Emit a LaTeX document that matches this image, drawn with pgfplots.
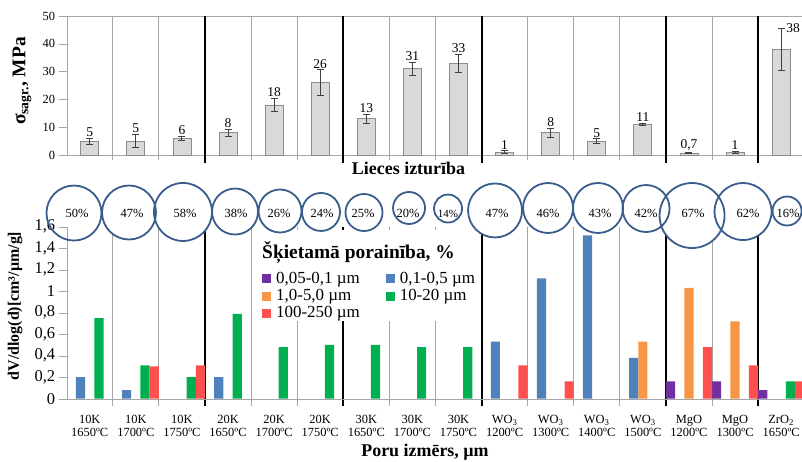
\documentclass[border=0pt]{standalone}
\usepackage{fontspec}
\setmainfont{Liberation Serif}
\usepackage{pgfplots}
\usepackage{pgfplotstable}
\pgfplotsset{compat=1.18}

\definecolor{cP}{HTML}{7030A0}
\definecolor{cB}{HTML}{4F81BD}
\definecolor{cO}{HTML}{F79646}
\definecolor{cG}{HTML}{00B050}
\definecolor{cR}{HTML}{FF5050}
\definecolor{barfill}{HTML}{D9D9D9}
\definecolor{bardraw}{HTML}{8C8C8C}
\definecolor{errc}{HTML}{404040}
\definecolor{sepgray}{HTML}{A6A6A6}
\definecolor{circc}{HTML}{3A5E8C}

\pgfplotsset{
  sqleg/.style={legend image code/.code={\fill[##1] (0bp,-4.5bp) rectangle (9bp,4.5bp);}},
}
\newcommand\fsz[2]{\fontsize{#1}{#2}\selectfont}

% bending strength: value, error, label
\pgfplotstableread{
x  y    e    lab
0  5    1.1  5
1  5    2.4  5
2  6    0.8  6
3  8    1.2  8
4  18   2.4  18
5  26   4.6  26
6  13   1.5  13
7  31   2.4  31
8  33   3.2  33
9  1    0.5  1
10 8    1.6  8
11 5    0.8  5
12 11   0.5  11
13 0.7  0.25 0,7
14 1    0.35 1
15 38   7.5  38
}\toptab

% pore size distribution, one table per size class
\pgfplotstableread{
x  y
13 0.16
14 0.16
15 0.08
}\tabP
\pgfplotstableread{
x  y
0  0.20
1  0.08
3  0.20
9  0.53
10 1.12
11 1.52
12 0.38
}\tabB
\pgfplotstableread{
x  y
12 0.53
13 1.03
14 0.72
}\tabO
\pgfplotstableread{
x  y
0  0.75
1  0.31
2  0.20
3  0.79
4  0.48
5  0.50
6  0.50
7  0.48
8  0.48
15 0.16
}\tabG
\pgfplotstableread{
x  y
1  0.30
2  0.31
9  0.31
10 0.16
13 0.48
14 0.31
15 0.16
}\tabR

% apparent porosity bubbles
\pgfplotstableread{
x       y      r     lx      ly     fs    lab
-0.342  1.727  27.5  -0.277  1.723  12.5  50\%
0.852   1.732  27    0.917   1.723  12.5  47\%
2.023   1.737  29    2.067   1.723  12.5  58\%
3.152   1.741  23    3.173   1.723  12.5  38\%
4.128   1.746  21.5  4.106   1.723  12.5  26\%
5.017   1.737  19    5.039   1.723  12.5  24\%
5.950   1.732  18.5  5.929   1.723  12.5  25\%
6.927   1.774  16    6.905   1.723  12.5  20\%
7.773   1.769  14    7.773   1.723  11    14\%
8.793   1.751  27    8.836   1.723  12.5  47\%
9.943   1.774  25    9.943   1.723  12.5  46\%
11.027  1.774  25    11.071  1.723  12.5  43\%
12.069  1.769  23.5  12.069  1.723  12.5  42\%
13.067  1.704  32.5  13.089  1.723  12.5  67\%
14.173  1.741  28.5  14.282  1.723  12.5  62\%
15.128  1.746  14.5  15.150  1.723  12.5  16\%
}\circtab

\begin{document}
\begin{tikzpicture}
\useasboundingbox (0bp,0bp) rectangle (802bp,462bp);

% ---------- bending strength ----------
\begin{axis}[
  at={(66.7bp,307bp)}, anchor=south west,
  scale only axis, width=737.5bp, height=139bp,
  xmin=-0.5, xmax=15.5, ymin=0, ymax=50,
  xtick=\empty, ytick={0,10,...,50},
  axis line style={sepgray}, tick style={sepgray},
  tick align=outside, major tick length=8bp,
  yticklabel style={font=\fsz{12.5}{14}},
  clip=false,
  /pgf/number format/assume math mode=true,
]
\pgfplotsinvokeforeach{0.5,1.5,3.5,4.5,6.5,7.5,9.5,10.5,11.5,13.5}{
  \draw[sepgray, line width=1bp] (axis cs:#1,50) -- (axis cs:#1,0) -- ++(0bp,-5bp);}
\pgfplotsinvokeforeach{2.5,5.5,8.5,12.5,14.5}{
  \draw[black, line width=2bp] (axis cs:#1,50) -- (axis cs:#1,0) -- ++(0bp,-8bp);}
\addplot[ybar, bar width=0.39, bar shift=0, fill=barfill, draw=bardraw, line width=0.8bp,
  error bars/.cd, y dir=both, y explicit,
  error mark=-,
  error bar style={color=errc, line width=1bp},
  error mark options={rotate=90, color=errc, line width=1bp, mark size=3.5bp}]
  table[x=x, y=y, y error=e] \toptab;
\addplot[draw=none, mark=none, nodes near coords, point meta=explicit symbolic,
  restrict x to domain=0:14,
  every node near coord/.append style={font=\fsz{13.5}{15}, text=black, anchor=south, inner sep=1.5bp}]
  table[x=x, y expr=\thisrow{y}+\thisrow{e}, meta=lab] \toptab;
\addplot[draw=none, mark=none, nodes near coords, point meta=explicit symbolic,
  restrict x to domain=15:15,
  every node near coord/.append style={font=\fsz{13.5}{15}, text=black, anchor=west, inner sep=0bp, xshift=5bp}]
  table[x=x, y expr=\thisrow{y}+\thisrow{e}, meta=lab] \toptab;
\end{axis}

% ---------- pore size distribution ----------
\begin{axis}[
  at={(66.7bp,63.3bp)}, anchor=south west,
  scale only axis, width=737.5bp, height=172bp,
  xmin=-0.5, xmax=15.5, ymin=0, ymax=1.6,
  axis on top,
  axis x line*=bottom, axis y line*=left,
  axis line style={sepgray, -},
  xtick={0,...,15},
  xticklabels={{10K\\1650ºC},{10K\\1700ºC},{10K\\1750ºC},{20K\\1650ºC},{20K\\1700ºC},{20K\\1750ºC},{30K\\1650ºC},{30K\\1700ºC},{30K\\1750ºC},{WO\textsubscript{3}\\1200ºC},{WO\textsubscript{3}\\1300ºC},{WO\textsubscript{3}\\1400ºC},{WO\textsubscript{3}\\1500ºC},{MgO\\1200ºC},{MgO\\1300ºC},{ZrO\textsubscript{2}\\1650ºC}},
  x tick style={draw=none},
  y tick style={sepgray},
  ytick={0,0.2,0.4,0.6,0.8,1,1.2,1.4,1.6},
  tick align=outside, major tick length=8bp,
  xticklabel style={align=center, font=\fsz{12.5}{12.8}, yshift=-5bp},
  yticklabel style={font=\fsz{16.5}{18}},
  clip=false,
  legend columns=2, legend cell align=left,
  legend style={at={(0.2648,0.74)}, anchor=north west, draw=none, fill=none,
    inner sep=0pt, font=\fsz{17}{18}, row sep=2.3bp,
    nodes={inner sep=1bp},
    /tikz/every odd column/.style={column sep=4bp},
    /tikz/every even column/.style={column sep=25bp}},
  /pgf/number format/.cd, use comma, fixed, assume math mode=true,
]
\pgfplotsinvokeforeach{0.5,1.5,3.5,4.5,6.5,7.5,9.5,10.5,11.5,13.5}{
  \draw[sepgray, line width=1bp] (axis cs:#1,1.6) -- (axis cs:#1,0) -- ++(0bp,-7bp);}
\pgfplotsinvokeforeach{2.5,5.5,8.5,12.5,14.5}{
  \draw[black, line width=2bp] (axis cs:#1,1.6) -- (axis cs:#1,0) -- ++(0bp,-7.5bp);}

\addplot[ybar, bar width=0.2, bar shift=-0.4, fill=cP, draw=none, sqleg] table[x=x,y=y] \tabP;
\addlegendentry{0,05-0,1 µm}
\addplot[ybar, bar width=0.2, bar shift=-0.2, fill=cB, draw=none, sqleg] table[x=x,y=y] \tabB;
\addlegendentry{0,1-0,5 µm}
\addplot[ybar, bar width=0.2, bar shift=0, fill=cO, draw=none, sqleg] table[x=x,y=y] \tabO;
\addlegendentry{1,0-5,0 µm}
\addplot[ybar, bar width=0.2, bar shift=0.2, fill=cG, draw=none, sqleg] table[x=x,y=y] \tabG;
\addlegendentry{10-20 µm}
\addplot[ybar, bar width=0.2, bar shift=0.4, fill=cR, draw=none, sqleg] table[x=x,y=y] \tabR;
\addlegendentry{100-250 µm}

% legend panel and its title
\fill[white] (axis cs:3.585,0.722) rectangle (axis cs:8.25,1.569);
\node[anchor=base west, inner sep=0pt, font=\bfseries\fsz{19.5}{20}] at (axis cs:3.737,1.306) {Šķietamā porainība, \%};

% porosity bubbles: white discs (the first one stays open over the tick labels),
% then outlines, then values
\addplot[forget plot, scatter, only marks, mark=*, point meta=\thisrow{r},
  restrict x to domain=0:16,
  scatter/use mapped color={draw=none, fill=white},
  visualization depends on={\thisrow{r}\as\rr},
  scatter/@pre marker code/.append style={/tikz/mark size=\rr bp}]
  table[x=x, y=y] \circtab;
\addplot[forget plot, scatter, only marks, mark=o, point meta=\thisrow{r},
  scatter/use mapped color={draw=circc, fill=none},
  mark options={line width=1.8bp},
  visualization depends on={\thisrow{r}\as\rr},
  scatter/@pre marker code/.append style={/tikz/mark size=\rr bp}]
  table[x=x, y=y] \circtab;
\addplot[forget plot, draw=none, mark=none, nodes near coords, point meta=explicit symbolic,
  visualization depends on={\thisrow{fs}\as\lfs},
  every node near coord/.append style={font=\fsz{\lfs}{\lfs}, text=black, anchor=center, inner sep=0bp}]
  table[x=lx, y=ly, meta=lab] \circtab;
\end{axis}

% axis titles
\node[anchor=base, font=\bfseries\fsz{18}{20}] at (408.5bp,287bp) {Lieces izturība};
\node[anchor=base, font=\bfseries\fsz{18}{20}] at (425bp,5.3bp) {Poru izmērs, µm};
\node[rotate=90, font=\bfseries\fsz{19.5}{20}] at (22bp,381bp) {σ\textsubscript{sagr.}, MPa};
\node[rotate=90, font=\bfseries\fsz{16}{18}] at (15bp,156bp) {dV/dlog(d)[cm³/µm/g]};
\end{tikzpicture}
\end{document}
